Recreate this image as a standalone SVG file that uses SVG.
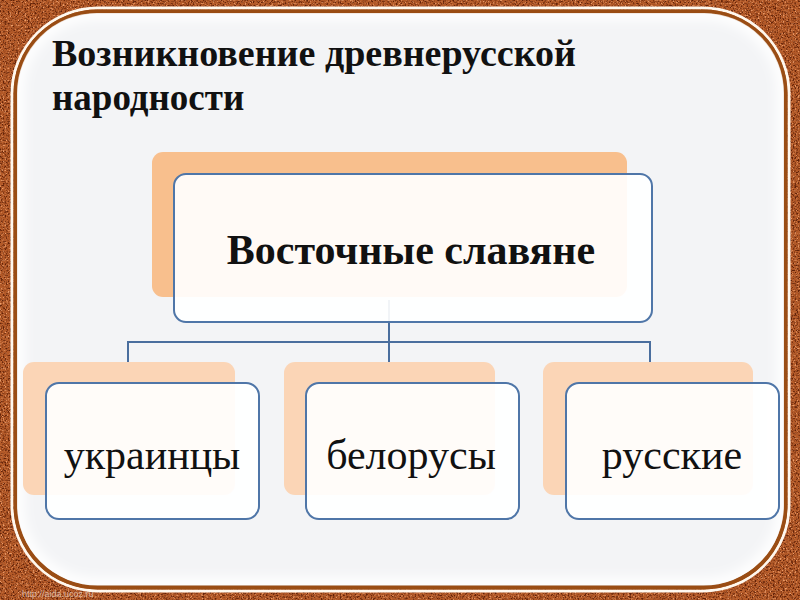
<svg xmlns="http://www.w3.org/2000/svg" width="800" height="600" viewBox="0 0 800 600">
  <defs>
    <filter id="tex" x="0" y="0" width="100%" height="100%" color-interpolation-filters="sRGB">
      <feTurbulence type="fractalNoise" baseFrequency="0.6" numOctaves="3" seed="7" result="n"/>
      <feColorMatrix in="n" type="matrix" values="0 0 0 0 0.38  0 0 0 0 0.13  0 0 0 0 0.03  4 0 0 0 -1.9" result="dark"/>
      <feColorMatrix in="n" type="matrix" values="0 0 0 0 0.93  0 0 0 0 0.62  0 0 0 0 0.42  0 -4 0 0 1.75" result="light"/>
      <feMerge>
        <feMergeNode in="SourceGraphic"/>
        <feMergeNode in="dark"/>
        <feMergeNode in="light"/>
      </feMerge>
    </filter>
    <filter id="soft" x="-5%" y="-5%" width="110%" height="110%">
      <feGaussianBlur stdDeviation="6"/>
    </filter>
    <clipPath id="inner">
      <rect x="17" y="13" width="767" height="572" rx="80"/>
    </clipPath>
    <style>
      .back-top { fill: #f8bf8d; }
      .back { fill: #fbd5b6; }
      .front { fill: #ffffff; fill-opacity: 0.92; stroke: #4f76a8; stroke-width: 2; }
      .conn { fill: none; stroke: #4a6e9e; stroke-width: 2; }
      .title { font-family: "Liberation Serif", "Times New Roman", serif; font-weight: bold; font-size: 37px; fill: #111; }
      .main { font-family: "Liberation Serif", "Times New Roman", serif; font-weight: bold; font-size: 42px; fill: #111; text-anchor: middle; }
      .sub { font-family: "Liberation Serif", "Times New Roman", serif; font-size: 42px; fill: #111; text-anchor: middle; }
      .wm { font-family: "Liberation Sans", Arial, sans-serif; font-size: 9px; fill: #e8d2c4; fill-opacity: 0.8; }
    </style>
  </defs>

  <!-- textured background -->
  <rect x="0" y="0" width="800" height="600" fill="#b45a28" filter="url(#tex)"/>

  <!-- frame -->
  <rect x="12" y="8" width="777" height="583" rx="86" fill="none" stroke="#fff8ee" stroke-width="3"/>
  <rect x="15.5" y="11.5" width="770" height="576" rx="82" fill="#f3f4f6" stroke="#9a4d14" stroke-width="4"/>
  <g clip-path="url(#inner)">
    <rect x="17" y="13" width="767" height="572" rx="80" fill="none" stroke="#ffffff" stroke-width="14" filter="url(#soft)"/>
  </g>

  <!-- title -->
  <text class="title" x="52" y="66" textLength="524" lengthAdjust="spacingAndGlyphs">Возникновение древнерусской</text>
  <text class="title" x="52" y="110">народности</text>

  <!-- connectors -->
  <g id="connectors">
    <path class="conn" d="M389 300 V342"/>
    <path class="conn" d="M128 362 V342 H650 V362"/>
    <path class="conn" d="M389 342 V362"/>
  </g>

  <!-- nodes -->
  <g id="node-east-slavs">
    <rect class="back-top" x="152" y="152" width="475" height="145" rx="11"/>
    <rect class="front" x="174" y="174" width="478" height="148" rx="12"/>
    <text class="main" x="411" y="264">Восточные славяне</text>
  </g>

  <g id="node-ukrainians">
    <rect class="back" x="23" y="362" width="212" height="133" rx="11"/>
    <rect class="front" x="46" y="383" width="213" height="136" rx="13"/>
    <text class="sub" x="152" y="469">украинцы</text>
  </g>

  <g id="node-belarusians">
    <rect class="back" x="284" y="362" width="211" height="133" rx="11"/>
    <rect class="front" x="306" y="383" width="213" height="136" rx="13"/>
    <text class="sub" x="411" y="469">белорусы</text>
  </g>

  <g id="node-russians">
    <rect class="back" x="543" y="362" width="210" height="133" rx="11"/>
    <rect class="front" x="566" y="383" width="213" height="136" rx="13"/>
    <text class="sub" x="672" y="469">русские</text>
  </g>

  <text class="wm" x="22" y="597">http://aida.ucoz.ru</text>
</svg>
